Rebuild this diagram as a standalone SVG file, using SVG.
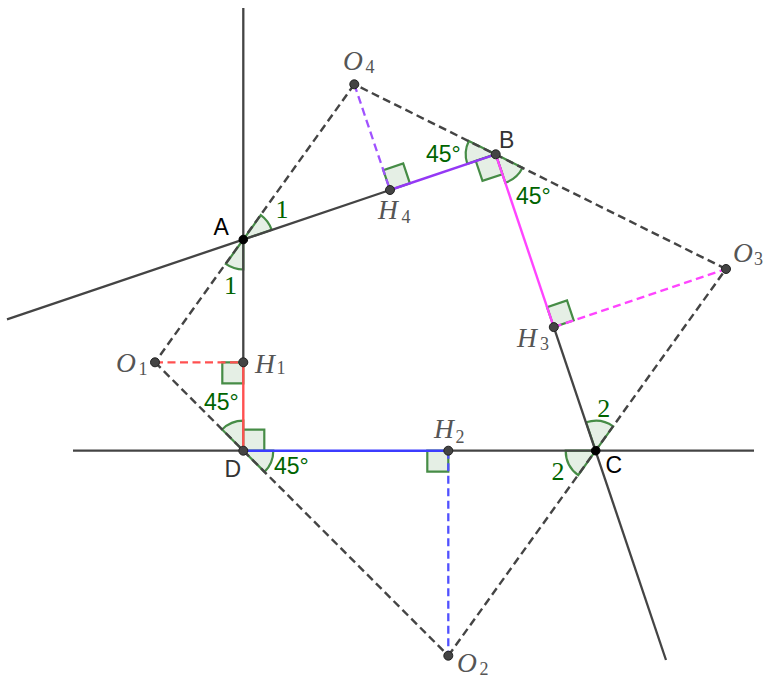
<svg xmlns="http://www.w3.org/2000/svg" width="774" height="682" viewBox="0 0 774 682">
<style>
.ln{fill:none;stroke:#444;stroke-width:2.3;stroke-linecap:butt}
.dk{fill:none;stroke:#444;stroke-width:2.4;stroke-dasharray:8,4.5}
.sol{fill:none;stroke-width:2.4}
.dsh{fill:none;stroke-width:2.3;stroke-dasharray:8,4.5}
.ang{fill:#e5efe5;stroke:#468c46;stroke-width:2.2;stroke-linejoin:miter}
.pt{fill:#444;stroke:#222;stroke-width:1}
.ptk{fill:#000;stroke:#000;stroke-width:1}
.lab{font-family:"Liberation Sans",Arial,sans-serif;font-size:23px;fill:#333}
.it{font-family:"Liberation Serif","Times New Roman",serif;font-style:italic;font-size:27.5px;fill:#555}
.sub{font-family:"Liberation Serif","Times New Roman",serif;font-size:18px;fill:#555;text-anchor:middle}
.gd{font-family:"Liberation Sans",Arial,sans-serif;font-size:23px;fill:#006400}
.gn{font-family:"Liberation Serif","Times New Roman",serif;font-size:26px;fill:#006400;text-anchor:middle}
</style>

<g id="angles">
  <!-- angle 1 at A -->
  <path class="ang" d="M243.3,239.5 L271.7,229.9 A30,30 0 0 0 260.8,215.1 Z"/>
  <path class="ang" d="M243.3,239.5 L243.3,269.5 A30,30 0 0 1 225.8,263.9 Z"/>
  <!-- 45 at B -->
  <path class="ang" d="M495.7,154.3 L467.3,163.9 A30,30 0 0 1 468.8,141.0 Z"/>
  <path class="ang" d="M495.7,154.3 L505.3,182.7 A30,30 0 0 0 522.55,167.7 Z"/>
  <polygon class="ang" points="495.7,154.3 475.8,161.0 482.5,180.9 502.4,174.2"/>
  <!-- 45 at D -->
  <path class="ang" d="M243.3,450.7 L222.1,429.5 A30,30 0 0 1 243.3,420.7 Z"/>
  <path class="ang" d="M243.3,450.7 L273.3,450.7 A30,30 0 0 1 264.5,471.9 Z"/>
  <polygon class="ang" points="243.3,450.7 243.3,429.7 264.3,429.7 264.3,450.7"/>
  <!-- angle 2 at C -->
  <path class="ang" d="M595.7,450.7 L586.1,422.3 A30,30 0 0 1 613.2,426.3 Z"/>
  <path class="ang" d="M595.7,450.7 L565.7,450.7 A30,30 0 0 0 578.2,475.1 Z"/>
  <!-- right angles at feet -->
  <polygon class="ang" points="243.3,362.3 222.3,362.3 222.3,383.3 243.3,383.3"/>
  <polygon class="ang" points="448.3,450.7 427.3,450.7 427.3,471.7 448.3,471.7"/>
  <polygon class="ang" points="553.8,327.1 547.1,307.2 567.0,300.5 573.7,320.4"/>
  <polygon class="ang" points="390,190 383.3,170.1 403.2,163.4 409.9,183.3"/>
</g>

<g id="connectors">
  <line class="ln" x1="243.3" y1="8" x2="243.3" y2="362.3"/>
  <line class="ln" x1="7" y1="319.3" x2="390" y2="190"/>
  <line class="ln" x1="73" y1="450.7" x2="243.3" y2="450.7"/>
  <line class="ln" x1="448.3" y1="450.7" x2="754" y2="450.7"/>
  <line class="ln" x1="553.8" y1="327.1" x2="666" y2="660"/>

  <line class="dk" x1="354.3" y1="84.3" x2="155" y2="362.3"/>
  <line class="dk" x1="155" y1="362.3" x2="448.3" y2="655.7"/>
  <line class="dk" x1="448.3" y1="655.7" x2="726" y2="269"/>
  <line class="dk" x1="726" y1="269" x2="354.3" y2="84.3"/>

  <line class="sol" stroke="#ff5050" x1="243.3" y1="362.3" x2="243.3" y2="450.7"/>
  <line class="sol" stroke="#3c3cff" x1="243.3" y1="450.7" x2="448.3" y2="450.7"/>
  <line class="sol" stroke="#9438f5" x1="390" y1="190" x2="495.7" y2="154.3"/>
  <line class="sol" stroke="#ff45ff" x1="495.7" y1="154.3" x2="553.8" y2="327.1"/>

  <line class="dsh" stroke="#ff5050" x1="155" y1="362.3" x2="243.3" y2="362.3"/>
  <line class="dsh" stroke="#5050ff" x1="448.3" y1="450.7" x2="448.3" y2="655.7"/>
  <line class="dsh" stroke="#a052ff" x1="354.3" y1="84.3" x2="390" y2="190"/>
  <line class="dsh" stroke="#ff45ff" x1="553.8" y1="327.1" x2="726" y2="269"/>
</g>

<g id="A"><circle class="ptk" cx="243.3" cy="239.5" r="4.3"/><text class="lab" x="213.5" y="235" style="fill:#000">A</text></g>
<g id="B"><circle class="pt" cx="495.7" cy="154.3" r="4.5"/><text class="lab" x="499" y="147.5">B</text></g>
<g id="C"><circle class="ptk" cx="595.7" cy="450.7" r="4.3"/><text class="lab" x="605.5" y="473" style="fill:#000">C</text></g>
<g id="D"><circle class="pt" cx="243.3" cy="450.7" r="4.5"/><text class="lab" x="224.5" y="477">D</text></g>

<g id="O1"><circle class="pt" cx="155" cy="362.3" r="4.5"/><text class="it" x="116" y="372">O</text><text class="sub" x="143" y="374.5">1</text></g>
<g id="O2"><circle class="pt" cx="448.3" cy="655.7" r="4.5"/><text class="it" x="457" y="671.5">O</text><text class="sub" x="484" y="675">2</text></g>
<g id="O3"><circle class="pt" cx="726" cy="269" r="4.5"/><text class="it" x="733" y="261.5">O</text><text class="sub" x="758.5" y="265">3</text></g>
<g id="O4"><circle class="pt" cx="354.3" cy="84.3" r="4.5"/><text class="it" x="343" y="70">O</text><text class="sub" x="370" y="73.3">4</text></g>

<g id="H1"><circle class="pt" cx="243.3" cy="362.3" r="4.5"/><text class="it" x="255" y="372.5">H</text><text class="sub" x="281" y="374.3">1</text></g>
<g id="H2"><circle class="pt" cx="448.3" cy="450.7" r="4.5"/><text class="it" x="434" y="438.3">H</text><text class="sub" x="460" y="442.7">2</text></g>
<g id="H3"><circle class="pt" cx="553.8" cy="327.1" r="4.5"/><text class="it" x="517" y="346.7">H</text><text class="sub" x="544.5" y="350">3</text></g>
<g id="H4"><circle class="pt" cx="390" cy="190" r="4.5"/><text class="it" x="378" y="219.3">H</text><text class="sub" x="406" y="223.3">4</text></g>

<g id="angle-labels">
  <text class="gn" x="282" y="218.3">1</text>
  <text class="gn" x="230.5" y="294">1</text>
  <text class="gn" x="603.8" y="416.5">2</text>
  <text class="gn" x="558" y="480">2</text>
  <text class="gd" x="204" y="410">45°</text>
  <text class="gd" x="274" y="474">45°</text>
  <text class="gd" x="426" y="162">45°</text>
  <text class="gd" x="516" y="203.5">45°</text>
</g>
</svg>
